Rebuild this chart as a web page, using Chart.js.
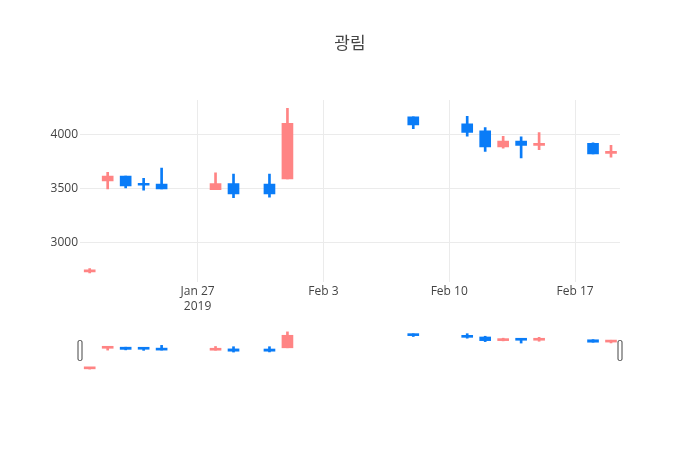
<!DOCTYPE html>
<html>
<head>
<meta charset="utf-8">
<script src="https://cdn.jsdelivr.net/npm/chart.js@4/dist/chart.umd.min.js"></script>
<style>
  html, body { margin: 0; padding: 0; background: #fff; }
  #wrap { position: relative; width: 700px; height: 450px; }
  #wrap canvas { position: absolute; left: 0; top: 0; }
</style>
</head>
<body>
<div id="wrap">
  <canvas id="mainChart" width="700" height="450"></canvas>
  <canvas id="sliderChart" width="700" height="450"></canvas>
</div>
<script>
// Données
const dates = ["2019-01-21", "2019-01-22", "2019-01-23", "2019-01-24", "2019-01-25",
  "2019-01-28", "2019-01-29", "2019-01-31", "2019-02-01", "2019-02-08",
  "2019-02-11", "2019-02-12", "2019-02-13", "2019-02-14", "2019-02-15",
  "2019-02-18", "2019-02-19"];
const opens  = [2725, 3570, 3615, 3545, 3540, 3490, 3545, 3540, 3590, 4165, 4100, 4035, 3885, 3940, 3900, 3920, 3825];
const highs  = [2755, 3650, 3615, 3595, 3690, 3645, 3635, 3635, 4245, 4165, 4170, 4065, 3985, 3980, 4020, 3925, 3900];
const lows   = [2715, 3495, 3505, 3485, 3495, 3490, 3415, 3420, 3590, 4055, 3985, 3845, 3875, 3785, 3860, 3820, 3790];
const closes = [2740, 3615, 3525, 3530, 3495, 3545, 3450, 3450, 4105, 4090, 4020, 3885, 3940, 3900, 3920, 3820, 3845];

const xTickDates  = ["2019-01-27", "2019-02-03", "2019-02-10", "2019-02-17"];
const xTickLabels = [["Jan 27", "2019"], "Feb 3", "Feb 10", "Feb 17"];
const yTicks = [3000, 3500, 4000];

const RED = "#ff8484";
const BLUE = "#0a7cf7";
const FONT = "'Open Sans', 'Noto Sans CJK KR', sans-serif";

// jours depuis le 1er janvier 2019
const jour = (s) => (Date.parse(s + "T00:00:00Z") - Date.UTC(2019, 0, 1)) / 86400000;
const xs = dates.map(jour);
const xTicks = xTickDates.map(jour);
const xMin = 19.46, xMax = 49.5;
const yMin = 2636, yMax = 4322;

const couleurs = opens.map((o, i) => (closes[i] >= o ? RED : BLUE));
const corps = xs.map((x, i) => ({ x: x, y: [opens[i], closes[i]] }));
const meches = xs.map((x, i) => ({ x: x, y: [lows[i], highs[i]] }));

function datasets() {
  return [
    {
      data: corps,
      backgroundColor: couleurs,
      borderWidth: 0,
      barThickness: 11,
      minBarLength: 2,
      grouped: false,
    },
    {
      data: meches,
      backgroundColor: couleurs,
      borderWidth: 0,
      barThickness: 2,
      grouped: false,
    },
  ];
}

Chart.defaults.font.family = FONT;
Chart.defaults.font.size = 12;
Chart.defaults.color = "#444";

try {
  // Graphique principal
  new Chart(document.getElementById("mainChart"), {
    type: "bar",
    data: { datasets: datasets() },
    options: {
      responsive: false,
      animation: false,
      layout: { padding: 0 },
      plugins: {
        legend: { display: false },
        tooltip: { enabled: false },
        title: {
          display: true,
          text: "광림",
          color: "#444",
          font: { family: FONT, size: 17, weight: "normal" },
          padding: { top: 34, bottom: 45.6 },
        },
      },
      scales: {
        x: {
          type: "linear",
          min: xMin,
          max: xMax,
          offset: false,
          afterBuildTicks: (s) => { s.ticks = xTicks.map((v) => ({ value: v })); },
          afterFit: (s) => { s.height = 168.5; },
          ticks: {
            padding: 3,
            maxRotation: 0,
            autoSkip: false,
            callback: (v) => xTickLabels[xTicks.indexOf(v)],
          },
          grid: { color: "#ebebeb", drawTicks: false, offset: false },
          border: { display: false },
        },
        y: {
          min: yMin,
          max: yMax,
          afterBuildTicks: (s) => { s.ticks = yTicks.map((v) => ({ value: v })); },
          afterFit: (s) => { s.width = 80; },
          ticks: { padding: 2, callback: (v) => String(v) },
          grid: { color: "#ebebeb", drawTicks: false },
          border: { display: false },
        },
        // marge droite vide
        yDroite: {
          position: "right",
          min: yMin,
          max: yMax,
          afterFit: (s) => { s.width = 80; },
          ticks: { display: false },
          grid: { display: false },
          border: { display: false },
        },
      },
    },
  });
} catch (error) {
  console.error("Erreur graphique principal:", error);
}

try {
  // Range slider (poignées)
  const poignees = {
    id: "poignees",
    afterDraw(chart) {
      const a = chart.chartArea;
      const ctx = chart.ctx;
      const cy = (a.top + a.bottom) / 2;
      [a.left, a.right].forEach((x) => {
        ctx.save();
        ctx.beginPath();
        ctx.roundRect(x - 2, cy - 10, 4, 20, 1.5);
        ctx.fillStyle = "#fff";
        ctx.fill();
        ctx.lineWidth = 1;
        ctx.strokeStyle = "#444";
        ctx.stroke();
        ctx.restore();
      });
    },
  };

  new Chart(document.getElementById("sliderChart"), {
    type: "bar",
    data: { datasets: datasets() },
    plugins: [poignees],
    options: {
      responsive: false,
      animation: false,
      layout: { padding: { left: 80, right: 80, top: 330, bottom: 79 } },
      plugins: { legend: { display: false }, tooltip: { enabled: false } },
      scales: {
        x: { type: "linear", min: xMin, max: xMax, offset: false, display: false },
        y: { min: yMin, max: yMax, display: false },
      },
    },
  });
} catch (error) {
  console.error("Erreur range slider:", error);
}
</script>
</body>
</html>
